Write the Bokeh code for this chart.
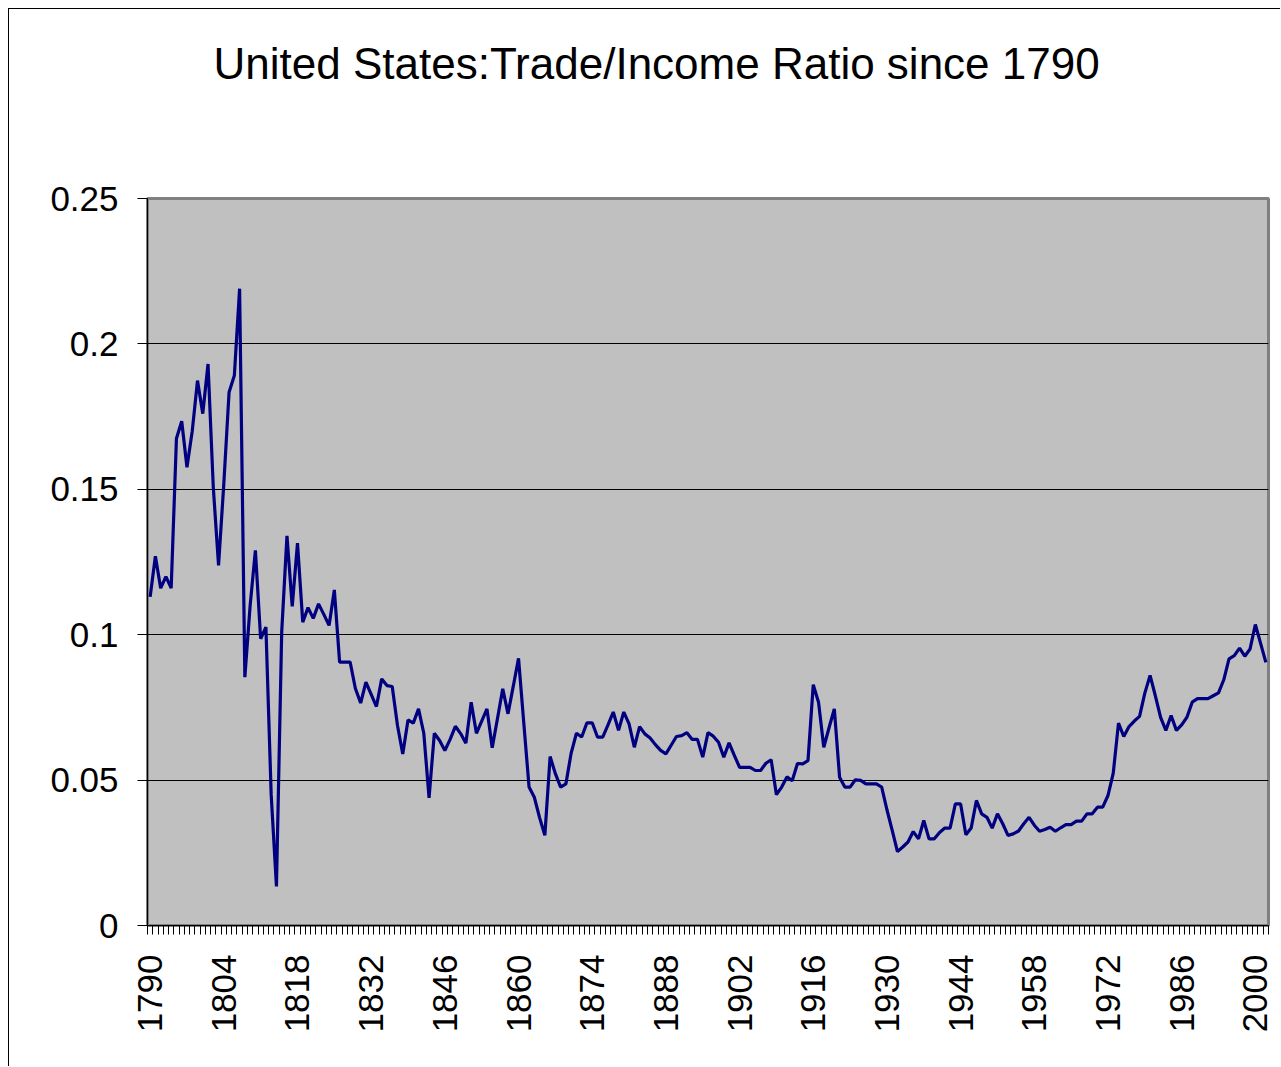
from bokeh.plotting import figure
from bokeh.models import FixedTicker, NumeralTickFormatter, Range1d, Title
from bokeh.embed import file_html
from bokeh.resources import INLINE

title_text = "United States:Trade/Income Ratio since 1790"
years = list(range(1790, 2003))
ratio = [
    0.113, 0.127, 0.116, 0.120, 0.116, 0.1675, 0.1734, 0.1576, 0.170, 0.1874,   # 1790-1799
    0.176, 0.1931, 0.1507, 0.1238, 0.1519, 0.1834, 0.1891, 0.219, 0.0854, 0.110,  # 1800-1809
    0.129, 0.0986, 0.1026, 0.045, 0.0134, 0.101, 0.134, 0.1097, 0.1315, 0.1043,   # 1810-1819
    0.1093, 0.1056, 0.1106, 0.107, 0.1032, 0.1154, 0.0906, 0.0906, 0.0906, 0.0815,  # 1820-1829
    0.0765, 0.0837, 0.0795, 0.0753, 0.0848, 0.0825, 0.0822, 0.0688, 0.059, 0.0707,  # 1830-1839
    0.0696, 0.0745, 0.0661, 0.0439, 0.0661, 0.0636, 0.0602, 0.064, 0.0685, 0.066,   # 1840-1849
    0.0627, 0.0768, 0.0661, 0.0703, 0.0745, 0.0611, 0.0712, 0.0814, 0.0728, 0.0823,  # 1850-1859
    0.0919, 0.0696, 0.0476, 0.0441, 0.0371, 0.031, 0.0581, 0.0522, 0.0476, 0.0487,   # 1860-1869
    0.0593, 0.0661, 0.0648, 0.0697, 0.0697, 0.0648, 0.0648, 0.069, 0.0734, 0.0671,   # 1870-1879
    0.0734, 0.0693, 0.0613, 0.0684, 0.0659, 0.0645, 0.0622, 0.0602, 0.059, 0.062,    # 1880-1889
    0.065, 0.0653, 0.0663, 0.064, 0.064, 0.0579, 0.0663, 0.0651, 0.063, 0.0579,      # 1890-1899
    0.0628, 0.0585, 0.0544, 0.0544, 0.0544, 0.0533, 0.0533, 0.0558, 0.057, 0.045,    # 1900-1909
    0.0476, 0.0511, 0.0498, 0.0557, 0.0556, 0.0567, 0.0828, 0.0768, 0.0613, 0.068,   # 1910-1919
    0.0745, 0.051, 0.0476, 0.0476, 0.0501, 0.0499, 0.0487, 0.0487, 0.0487, 0.0476,   # 1920-1929
    0.0398, 0.0327, 0.0254, 0.027, 0.0287, 0.0323, 0.0298, 0.0361, 0.0298, 0.0298,   # 1930-1939
    0.032, 0.0335, 0.0335, 0.0418, 0.0418, 0.0312, 0.0335, 0.043, 0.0384, 0.0372,    # 1940-1949
    0.0335, 0.0384, 0.035, 0.031, 0.0315, 0.0325, 0.035, 0.0372, 0.0345, 0.0324,     # 1950-1959
    0.033, 0.0338, 0.0324, 0.0336, 0.0347, 0.0347, 0.0359, 0.0359, 0.0384, 0.0384,   # 1960-1969
    0.0407, 0.0407, 0.0447, 0.0524, 0.0696, 0.065, 0.0684, 0.0703, 0.0719, 0.0799,   # 1970-1979
    0.086, 0.079, 0.0716, 0.0671, 0.0722, 0.0671, 0.069, 0.0716, 0.0768, 0.078,      # 1980-1989
    0.078, 0.078, 0.079, 0.080, 0.0845, 0.0917, 0.0928, 0.0954, 0.0926, 0.0951,      # 1990-1999
    0.1035, 0.097, 0.0905,                                                            # 2000-2002
]
x_label_years = list(range(1790, 2001, 14))
y_ticks = [0, 0.05, 0.1, 0.15, 0.2, 0.25]

FONT = "Liberation Sans"

p = figure(
    width=1272, height=1058,
    output_backend="svg", toolbar_location=None,
    x_range=Range1d(years[0] - 0.5, years[-1] + 0.5),
    y_range=Range1d(0, 0.25),
    min_border_left=138, min_border_right=13,
    min_border_top=189, min_border_bottom=142,
    background_fill_color="#C0C0C0",
    border_fill_color="white",
    outline_line_color="#808080", outline_line_width=3,
)
p.styles = {"border-left": "1px solid black", "border-top": "1px solid black",
            "margin-left": "8px", "margin-top": "8px"}

# blank spacer between the frame and the chart title
p.add_layout(Title(text=" ", text_font=FONT, text_font_size="44px",
                   standoff=60), "above")

p.title.text = title_text
p.title.text_font = FONT
p.title.text_font_size = "44px"
p.title.text_font_style = "normal"
p.title.text_color = "black"
p.title.align = "left"
p.title.vertical_align = "bottom"
p.title.offset = 66
p.title.standoff = 0

p.line(years, ratio, line_color="#000080", line_width=3.2)

# x axis
p.xaxis.ticker = FixedTicker(ticks=x_label_years,
                             minor_ticks=[y - 0.5 for y in years] + [years[-1] + 0.5])
p.xaxis.major_label_orientation = 1.5707963267948966
p.xaxis.major_tick_out = 0
p.xaxis.major_tick_in = 0
p.xaxis.minor_tick_out = 9
p.xaxis.minor_tick_in = 0
p.xaxis.minor_tick_line_color = "black"
p.xaxis.major_label_standoff = 20
p.xaxis.major_label_text_font = FONT
p.xaxis.major_label_text_font_size = "35px"
p.xaxis.major_label_text_color = "black"
p.xaxis.axis_line_color = "black"

# y axis
p.yaxis.ticker = FixedTicker(ticks=y_ticks)
p.yaxis.formatter = NumeralTickFormatter(format="0.[00]")
p.yaxis.major_tick_out = 10
p.yaxis.major_tick_in = 0
p.yaxis.minor_tick_out = 0
p.yaxis.minor_tick_in = 0
p.yaxis.major_label_standoff = 19
p.yaxis.major_label_text_font = FONT
p.yaxis.major_label_text_font_size = "35px"
p.yaxis.major_label_text_color = "black"
p.yaxis.axis_line_color = "black"

p.xgrid.grid_line_color = None
p.ygrid.grid_line_color = "black"
p.ygrid.grid_line_width = 1
p.ygrid.grid_line_alpha = 1.0

open("out.html", "w").write(file_html(p, INLINE))
